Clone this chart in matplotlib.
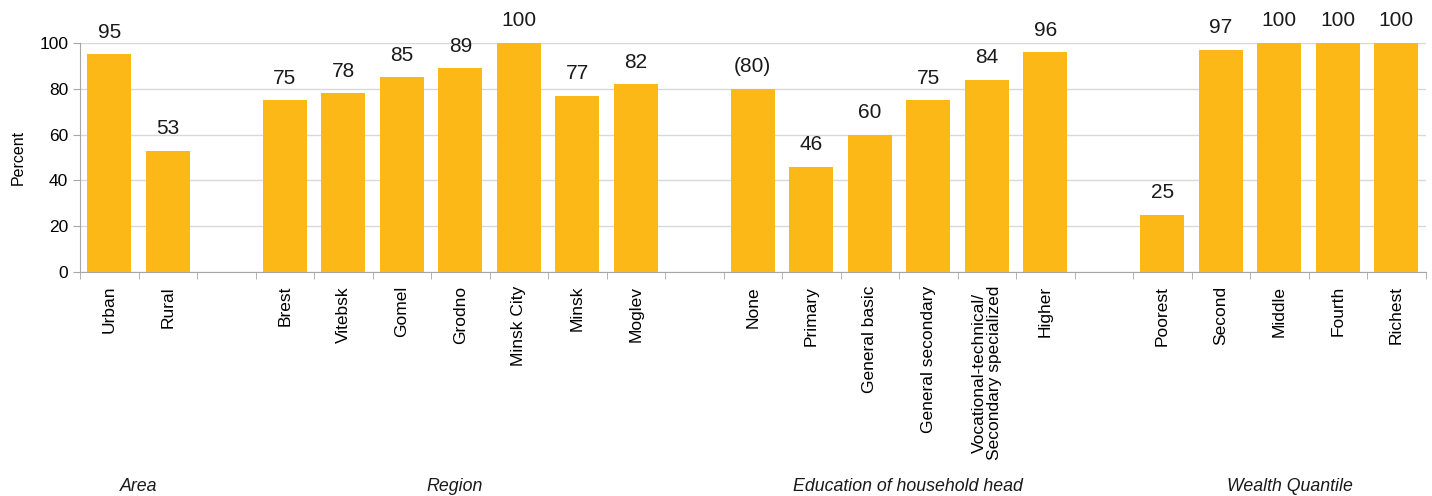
import numpy as np
import matplotlib.pyplot as plt

plt.rcParams['font.family'] = ['Liberation Sans', 'DejaVu Sans']

# categories per group, empty slot between groups
area = ['Urban', 'Rural']
area_vals = [95, 53]
region = ['Brest', 'Vitebsk', 'Gomel', 'Grodno', 'Minsk City', 'Minsk', 'Moglev']
region_vals = [75, 78, 85, 89, 100, 77, 82]
education = ['None', 'Primary', 'General basic', 'General secondary',
             'Vocational-technical/\nSecondary specialized', 'Higher']
education_vals = [80, 46, 60, 75, 84, 96]
education_text = ['(80)', '46', '60', '75', '84', '96']
wealth = ['Poorest', 'Second', 'Middle', 'Fourth', 'Richest']
wealth_vals = [25, 97, 100, 100, 100]

group_names = ['Area', 'Region', 'Education of household head', 'Wealth Quantile']
group_shift = [0.0, -0.1, 0.15, 0.18]
groups = [area, region, education, wealth]
group_vals = [area_vals, region_vals, education_vals, wealth_vals]
group_text = [[str(v) for v in area_vals], [str(v) for v in region_vals],
              education_text, [str(v) for v in wealth_vals]]

labels, values, texts, group_pos = [], [], [], []
pos = 0
xs = []
for g, (cats, vals, txt) in enumerate(zip(groups, group_vals, group_text)):
    start = pos
    for c, v, t in zip(cats, vals, txt):
        xs.append(pos)
        labels.append(c)
        values.append(v)
        texts.append(t)
        pos += 1
    group_pos.append((start + pos - 1) / 2 + group_shift[g])
    pos += 1  # blank slot
n_slots = pos - 1

fig = plt.figure(figsize=(14.32, 4.96), dpi=100)
ax = fig.add_axes([0.0559, 0.4516, 0.9396, 0.4617])

bar_color = '#FBB817'
ax.bar(xs, values, width=0.75, color=bar_color, zorder=3)
for x, v, t in zip(xs, values, texts):
    ax.text(x, v + 5.5, t, ha='center', va='bottom', fontsize=15, color='#1a1a1a')

ax.set_xlim(-0.5, n_slots - 0.5)
ax.set_ylim(0, 100)
ax.set_yticks(np.arange(0, 101, 20))
ax.set_ylabel('Percent', fontsize=11.5, labelpad=10)
ax.yaxis.grid(True, color='#D9D9D9', linewidth=1, zorder=0)

# labels at bar centres, tick marks on slot boundaries
ax.set_xticks(xs)
ax.set_xticklabels(labels, rotation=90, fontsize=12.5, va='top', linespacing=0.95)
ax.tick_params(axis='x', which='major', length=0, pad=10)
ax.set_xticks(np.arange(-0.5, n_slots, 1.0), minor=True)
ax.tick_params(axis='x', which='minor', length=5, color='#A6A6A6', direction='out')
ax.tick_params(axis='y', length=5, color='#A6A6A6', labelsize=12.5)

for s in ['top', 'right']:
    ax.spines[s].set_visible(False)
for s in ['left', 'bottom']:
    ax.spines[s].set_color('#A6A6A6')

for gx, name in zip(group_pos, group_names):
    ax.text(gx, -0.935, name, transform=ax.get_xaxis_transform(), ha='center',
            va='center', fontsize=12.8, style='italic', color='#1a1a1a')

fig.savefig('out.png', dpi=100)
